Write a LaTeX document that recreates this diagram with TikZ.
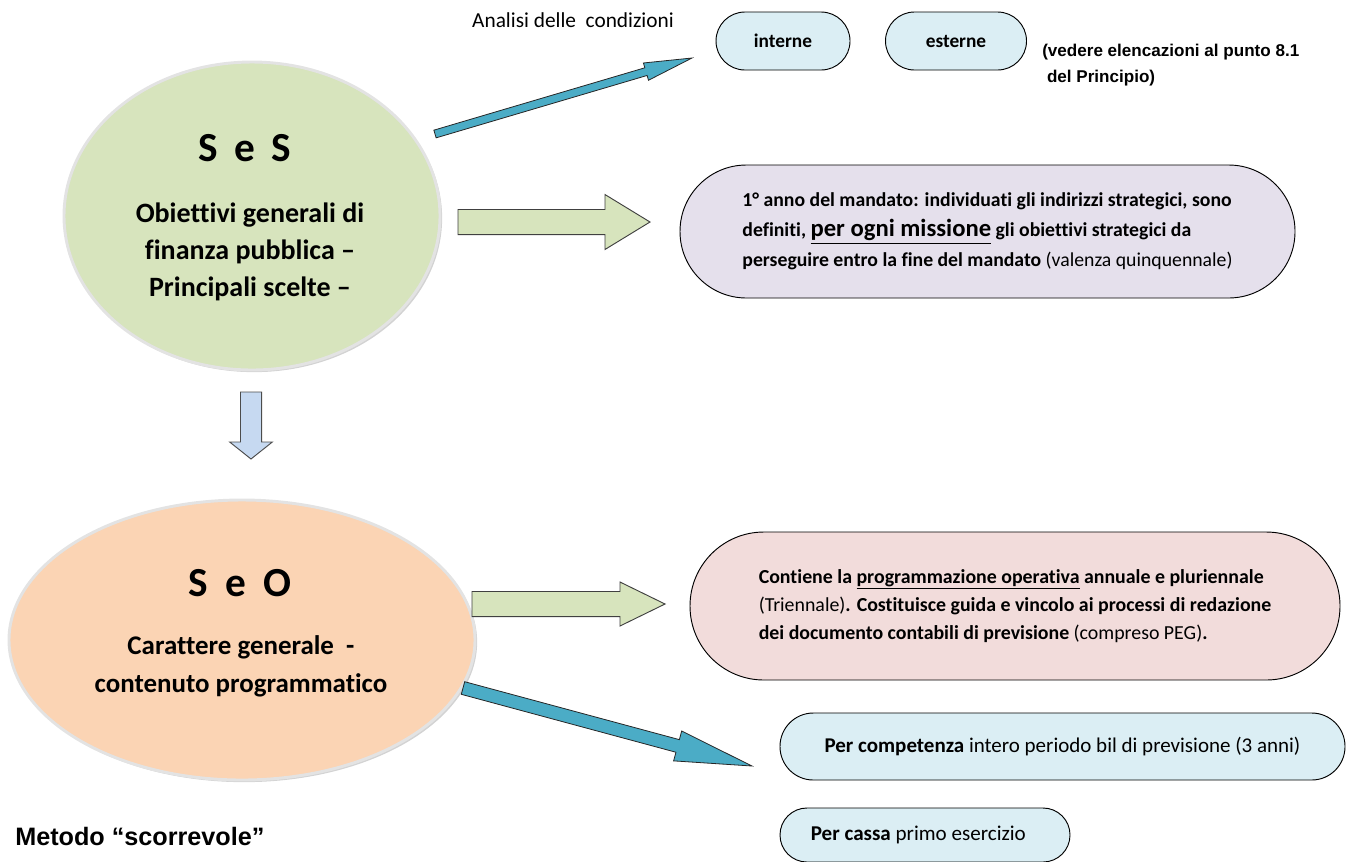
\documentclass[tikz,border=0pt]{standalone}
\usepackage{fontspec}
\setmainfont{Carlito}[Ligatures=NoCommon]
\newfontfamily\arialf{Liberation Sans}
\usetikzlibrary{shapes.geometric,calc,shadows}
\definecolor{sesgreen}{HTML}{D7E4BD}
\definecolor{seopeach}{HTML}{FBD4B4}
\definecolor{purpbox}{HTML}{E5E0EC}
\definecolor{pinkbox}{HTML}{F2DCDB}
\definecolor{lightbox}{HTML}{DBEEF4}
\definecolor{tealarrow}{HTML}{4BACC6}
\definecolor{downarrow}{HTML}{C6D9F1}
\newcommand\blockarrow[6]{%
  \path[#1] let \p1=($(#3)-(#2)$), \n1={atan2(\y1,\x1)}, \n2={veclen(\x1,\y1)} in
    ($(#2)+(\n1+90:#4)$) -- ($(#2)+(\n1:\n2-#6)+(\n1+90:#4)$) -- ($(#2)+(\n1:\n2-#6)+(\n1+90:#5)$) -- (#3)
    -- ($(#2)+(\n1:\n2-#6)+(\n1-90:#5)$) -- ($(#2)+(\n1:\n2-#6)+(\n1-90:#4)$) -- ($(#2)+(\n1-90:#4)$) -- cycle;}
\begin{document}
\begin{tikzpicture}[x=0.75pt,y=-0.75pt,
  pill/.style={draw=black, line width=0.7pt, align=left, inner sep=0pt},
  bigell/.style={ellipse, draw=gray!22, line width=2.2pt, inner sep=0pt,
     drop shadow={opacity=0.35, shadow xshift=1.6pt, shadow yshift=-1.6pt}},
  tealstyle/.style={fill=tealarrow, draw=black!85, line width=0.6pt},
  greenstyle/.style={fill=sesgreen, draw=black!75, line width=0.7pt},
  downstyle/.style={fill=downarrow, draw=black!70, line width=0.7pt},
  title/.style={font=\fontsize{31}{36}\selectfont\bfseries},
]
\useasboundingbox (0,0) rectangle (1358,861);

% ellipses
\node[bigell, fill=sesgreen, minimum width=282pt, minimum height=231pt] (ses) at (252,216) {};
\node[bigell, fill=seopeach, minimum width=349.5pt, minimum height=210pt] (seo) at (242,640) {};

\node[title] (sestitle) at (245,148) {S\hspace{0.4em}e\hspace{0.4em}S};
\node[align=center, font=\fontsize{21}{27.75}\selectfont\bfseries] (sesbody) at (250,252)
  {Obiettivi generali di\\finanza pubblica --\\Principali scelte --};
\node[title] (seotitle) at (240,583) {S\hspace{0.42em}e\hspace{0.42em}O};
\node[align=center, font=\fontsize{20.2}{28.5}\selectfont\bfseries] (seobody) at (241,666)
  {Carattere generale \ -\\contenuto programmatico};

% top texts and boxes
\node[font=\fontsize{16}{19}\selectfont] (analisi) at (573,20) {Analisi delle \ condizioni};
\node[pill, fill=lightbox, minimum width=100.5pt, minimum height=43.5pt, rounded corners=21.7pt,
  font=\fontsize{14.5}{17}\selectfont\bfseries, align=center] (interne) at (783,41) {interne};
\node[pill, fill=lightbox, minimum width=105.75pt, minimum height=43.5pt, rounded corners=21.7pt,
  font=\fontsize{14.5}{17}\selectfont\bfseries, align=center] (esterne) at (956,41) {esterne};
\node[anchor=west, align=left, inner sep=0pt, font=\arialf\bfseries\fontsize{12.8}{19.5}\selectfont] (vedere) at (1042,65)
  {(vedere elencazioni al punto 8.1\\ \ del Principio)};

% right boxes
\node[pill, fill=purpbox, minimum width=461.25pt, minimum height=99.75pt, rounded corners=49.8pt,
  font=\fontsize{14.8}{22.5}\selectfont\bfseries] (strat) at (987.5,231.5)
  {1° anno del mandato: individuati gli indirizzi strategici, sono\\
   definiti, {\fontsize{18.5}{22.5}\selectfont\underline{per ogni missione}} gli obiettivi strategici da\\
   perseguire entro la fine del mandato {\mdseries (valenza quinquennale)}};
\node[pill, fill=pinkbox, minimum width=487.5pt, minimum height=111pt, rounded corners=55.4pt,
  font=\fontsize{14.9}{21}\selectfont\bfseries] (oper) at (1015,606)
  {Contiene la \underline{programmazione operativa} annuale e pluriennale\\
   {\mdseries (Triennale)}. Costituisce guida e vincolo ai processi di redazione\\
   dei documento contabili di previsione {\mdseries (compreso PEG)}.};
\node[pill, fill=lightbox, minimum width=423.75pt, minimum height=50.25pt, rounded corners=25pt,
  font=\fontsize{15.75}{18}\selectfont] (comp) at (1062.5,746.5)
  {{\bfseries Per competenza} intero periodo bil di previsione (3 anni)};
\node[pill, fill=lightbox, minimum width=217.5pt, minimum height=40.5pt, rounded corners=20.2pt,
  font=\fontsize{15.8}{18}\selectfont] (cassa) at (925,835)
  {{\bfseries Per cassa} primo esercizio\hspace{10pt}};

\node[anchor=west, inner sep=0pt, font=\arialf\bfseries\fontsize{18.9}{22}\selectfont] (metodo) at (15,836)
  {Metodo “scorrevole”};

% arrows
\coordinate (a1s) at (435,134); \coordinate (a1e) at (692,58);
\coordinate (g1s) at (458,222); \coordinate (g1e) at (650,222);
\coordinate (g2s) at (472,604); \coordinate (g2e) at (665,604);
\coordinate (d1s) at (251,392); \coordinate (d1e) at (251,459);
\coordinate (b1s) at (463,688); \coordinate (b1e) at (752,766);

\blockarrow{tealstyle}{a1s}{a1e}{3pt}{6.75pt}{36pt}
\blockarrow{greenstyle}{g1s}{g1e}{9.4pt}{20.6pt}{33.75pt}
\blockarrow{greenstyle}{g2s}{g2e}{9.4pt}{16.5pt}{33.75pt}
\blockarrow{downstyle}{d1s}{d1e}{7.9pt}{16pt}{12.75pt}
\blockarrow{tealstyle}{b1s}{b1e}{4.9pt}{11.6pt}{57.75pt}
\end{tikzpicture}
\end{document}
